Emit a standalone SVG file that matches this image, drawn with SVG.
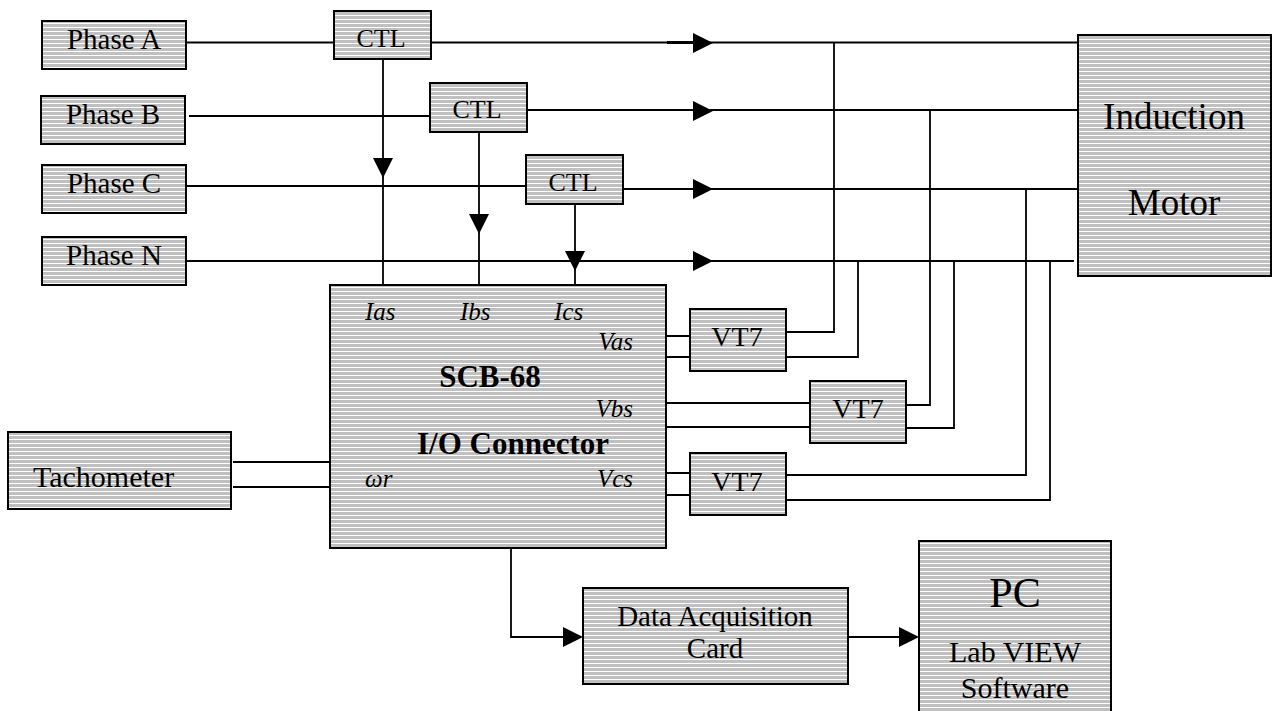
<svg xmlns="http://www.w3.org/2000/svg" width="1273" height="711" viewBox="0 0 1273 711">
<style>
.box{fill:url(#hs);stroke:#000;stroke-width:2}
.t{font-family:"Liberation Serif","Times New Roman",serif;fill:#000}
.c{text-anchor:middle}
.i{font-style:italic;font-size:25px}
.b{font-weight:bold;font-size:31px}
.w{fill:none;stroke:#000;stroke-width:1.8}
.ah{fill:#000}
</style>
<defs>
<pattern id="hs" patternUnits="userSpaceOnUse" width="8" height="4">
<rect width="8" height="4" fill="#c0c0c0"/>
<rect y="3" width="8" height="1" fill="#fff"/>
</pattern>
<path id="ar" d="M-20,-10 L0,0 L-20,10 Z"/>
</defs>
<rect width="1273" height="711" fill="#fff"/>

<g id="connectors">
<path class="w" d="M186,42.5 H334 M431,42.5 H1078"/>
<path class="w" d="M189,116 H430 M527,110 H1080"/>
<path class="w" d="M186,186 H526 M623,189 H1080"/>
<path class="w" d="M186,261 H1074"/>
<path class="w" d="M667,42.5 H693" style="stroke-width:3"/>
<use href="#ar" class="ah" transform="translate(713,43)"/>
<use href="#ar" class="ah" transform="translate(713,111)"/>
<use href="#ar" class="ah" transform="translate(713,189)"/>
<use href="#ar" class="ah" transform="translate(713,261)"/>
<path class="w" d="M383,59 V286 M479,132 V286 M575,204 V286"/>
<use href="#ar" class="ah" transform="translate(383,178) rotate(90)"/>
<use href="#ar" class="ah" transform="translate(479,234) rotate(90)"/>
<use href="#ar" class="ah" transform="translate(575,271) rotate(90)"/>
<path class="w" d="M666,336 H690 M666,357 H690"/>
<path class="w" d="M666,403 H810 M666,427 H810"/>
<path class="w" d="M666,473 H690 M666,495 H690"/>
<path class="w" d="M786,332 H834 V43"/>
<path class="w" d="M786,357 H858 V261"/>
<path class="w" d="M906,405 H930 V110"/>
<path class="w" d="M906,428 H954 V261"/>
<path class="w" d="M786,475 H1026 V189"/>
<path class="w" d="M786,500 H1050 V261"/>
<path class="w" d="M233,462 H330 M233,487 H330"/>
<path class="w" d="M511,548 V637 H565"/>
<use href="#ar" class="ah" transform="translate(583,637)"/>
<path class="w" d="M848,637 H900"/>
<use href="#ar" class="ah" transform="translate(919,637)"/>
</g>

<g id="phaseA"><rect class="box" x="42" y="21" width="144" height="48"/><text class="t c" x="114" y="49" font-size="29">Phase A</text></g>
<g id="phaseB"><rect class="box" x="41" y="96" width="144" height="48"/><text class="t c" x="113" y="124" font-size="29">Phase B</text></g>
<g id="phaseC"><rect class="box" x="42" y="165" width="144" height="48"/><text class="t c" x="114" y="193" font-size="29">Phase C</text></g>
<g id="phaseN"><rect class="box" x="42" y="237" width="144" height="48"/><text class="t c" x="114" y="265" font-size="29">Phase N</text></g>

<g id="ctlA"><rect class="box" x="334" y="11" width="97" height="48"/><text class="t c" x="381" y="47" font-size="26">CTL</text></g>
<g id="ctlB"><rect class="box" x="430" y="83" width="97" height="49"/><text class="t c" x="477" y="118" font-size="26">CTL</text></g>
<g id="ctlC"><rect class="box" x="526" y="155" width="97" height="49"/><text class="t c" x="573" y="191" font-size="26">CTL</text></g>

<g id="motor"><rect class="box" x="1078" y="35" width="193" height="241"/>
<text class="t c" x="1174" y="129" font-size="37">Induction</text>
<text class="t c" x="1174" y="215" font-size="37">Motor</text></g>

<g id="scb"><rect class="box" x="330" y="285" width="336" height="263"/>
<text class="t i" x="365" y="320">Ias</text>
<text class="t i" x="460" y="320">Ibs</text>
<text class="t i" x="554" y="320">Ics</text>
<text class="t i" x="633" y="350" text-anchor="end">Vas</text>
<text class="t i" x="633" y="417" text-anchor="end">Vbs</text>
<text class="t i" x="633" y="487" text-anchor="end">Vcs</text>
<text class="t i" x="365" y="487">ωr</text>
<text class="t b c" x="490" y="387">SCB-68</text>
<text class="t b c" x="513" y="454">I/O Connector</text></g>

<g id="vt1"><rect class="box" x="690" y="309" width="96" height="62"/><text class="t c" x="737" y="346" font-size="28">VT7</text></g>
<g id="vt2"><rect class="box" x="810" y="381" width="96" height="62"/><text class="t c" x="858" y="418" font-size="28">VT7</text></g>
<g id="vt3"><rect class="box" x="690" y="453" width="96" height="62"/><text class="t c" x="737" y="491" font-size="28">VT7</text></g>

<g id="tacho"><rect class="box" x="8" y="432" width="223" height="77"/><text class="t" x="33" y="487" font-size="30">Tachometer</text></g>

<g id="daq"><rect class="box" x="583" y="588" width="265" height="96"/>
<text class="t c" x="715" y="626" font-size="29">Data Acquisition</text>
<text class="t c" x="715" y="658" font-size="29">Card</text></g>

<g id="pc"><rect class="box" x="919" y="541" width="192" height="175"/>
<text class="t c" x="1015" y="607" font-size="42">PC</text>
<text class="t c" x="1015" y="662" font-size="30">Lab VIEW</text>
<text class="t c" x="1015" y="698" font-size="30">Software</text></g>
</svg>
